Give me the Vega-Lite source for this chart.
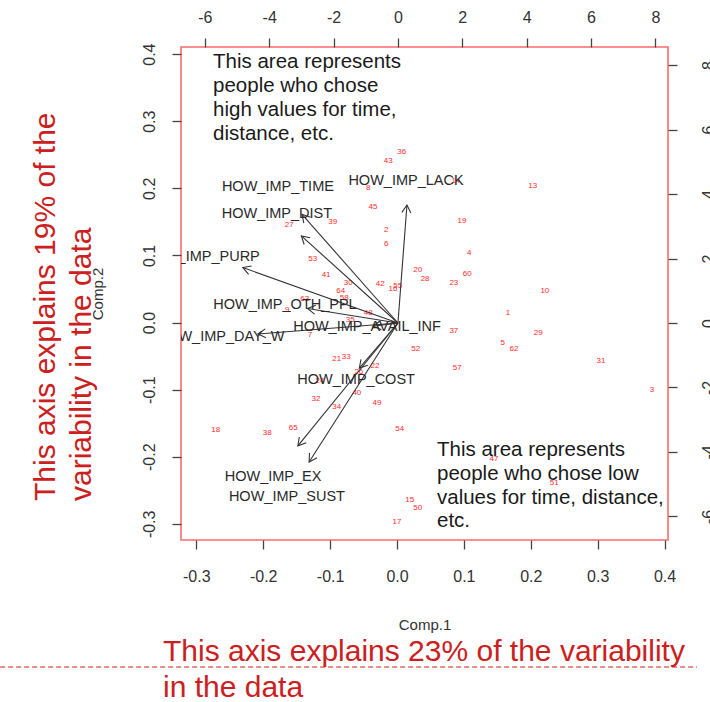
{
  "$schema": "https://vega.github.io/schema/vega-lite/v6.json",
  "width": 487,
  "height": 493,
  "autosize": {"type": "none"},
  "padding": {"left": 181, "top": 47, "right": 42, "bottom": 162},
  "background": "white",
  "config": {
    "font": "Liberation Sans",
    "view": {"stroke": "#ff6b6b", "strokeWidth": 1.6},
    "axis": {
      "domain": false, "grid": false,
      "tickColor": "#444", "tickSize": 9, "tickWidth": 1.3,
      "labelColor": "#333", "labelFontSize": 16, "labelFont": "Liberation Sans",
      "titleFont": "Liberation Sans", "titleFontWeight": "normal", "titleColor": "#333", "titleFontSize": 15
    }
  },
  "datasets": {
    "scores": [
      {"id": "36", "c1": 0.007, "c2": 0.254},
      {"id": "43", "c1": -0.013, "c2": 0.241},
      {"id": "8", "c1": -0.043, "c2": 0.201},
      {"id": "14", "c1": 0.088, "c2": 0.211},
      {"id": "13", "c1": 0.203, "c2": 0.203},
      {"id": "45", "c1": -0.036, "c2": 0.172},
      {"id": "39", "c1": -0.096, "c2": 0.150},
      {"id": "27", "c1": -0.161, "c2": 0.145},
      {"id": "19", "c1": 0.097, "c2": 0.151},
      {"id": "2", "c1": -0.016, "c2": 0.138},
      {"id": "6", "c1": -0.016, "c2": 0.117},
      {"id": "4", "c1": 0.108, "c2": 0.104},
      {"id": "53", "c1": -0.126, "c2": 0.095},
      {"id": "20", "c1": 0.031, "c2": 0.078},
      {"id": "60", "c1": 0.105, "c2": 0.072},
      {"id": "28", "c1": 0.042, "c2": 0.065},
      {"id": "23", "c1": 0.085, "c2": 0.059},
      {"id": "41", "c1": -0.106, "c2": 0.071},
      {"id": "30", "c1": -0.073, "c2": 0.059},
      {"id": "42", "c1": -0.025, "c2": 0.057},
      {"id": "16", "c1": -0.006, "c2": 0.050},
      {"id": "55", "c1": 0.001, "c2": 0.054},
      {"id": "10", "c1": 0.221, "c2": 0.047},
      {"id": "64", "c1": -0.084, "c2": 0.047},
      {"id": "58", "c1": -0.079, "c2": 0.037},
      {"id": "63", "c1": -0.138, "c2": 0.035},
      {"id": "9", "c1": -0.164, "c2": 0.019},
      {"id": "48", "c1": -0.043, "c2": 0.014},
      {"id": "1", "c1": 0.166, "c2": 0.014},
      {"id": "35", "c1": -0.070, "c2": 0.004},
      {"id": "37", "c1": 0.085, "c2": -0.013},
      {"id": "29", "c1": 0.211, "c2": -0.016},
      {"id": "7", "c1": -0.130, "c2": -0.019},
      {"id": "52", "c1": 0.028, "c2": -0.039},
      {"id": "5", "c1": 0.158, "c2": -0.031},
      {"id": "62", "c1": 0.175, "c2": -0.039},
      {"id": "31", "c1": 0.305, "c2": -0.057},
      {"id": "21", "c1": -0.090, "c2": -0.054},
      {"id": "33", "c1": -0.076, "c2": -0.051},
      {"id": "22", "c1": -0.033, "c2": -0.065},
      {"id": "57", "c1": 0.090, "c2": -0.068},
      {"id": "26", "c1": -0.057, "c2": -0.074},
      {"id": "3", "c1": 0.381, "c2": -0.101},
      {"id": "24", "c1": -0.115, "c2": -0.087},
      {"id": "40", "c1": -0.060, "c2": -0.105},
      {"id": "49", "c1": -0.030, "c2": -0.120},
      {"id": "32", "c1": -0.121, "c2": -0.114},
      {"id": "34", "c1": -0.090, "c2": -0.126},
      {"id": "18", "c1": -0.271, "c2": -0.160},
      {"id": "38", "c1": -0.194, "c2": -0.165},
      {"id": "65", "c1": -0.155, "c2": -0.157},
      {"id": "54", "c1": 0.004, "c2": -0.159},
      {"id": "47", "c1": 0.145, "c2": -0.203},
      {"id": "51", "c1": 0.235, "c2": -0.239},
      {"id": "15", "c1": 0.019, "c2": -0.264},
      {"id": "50", "c1": 0.031, "c2": -0.276},
      {"id": "17", "c1": 0.000, "c2": -0.297}
    ],
    "notesBlack": [
      {"text": "This area represents", "ax": -0.275, "ay": 0.388},
      {"text": "people who chose", "ax": -0.275, "ay": 0.352},
      {"text": "high values for time,", "ax": -0.275, "ay": 0.317},
      {"text": "distance, etc.", "ax": -0.275, "ay": 0.281},
      {"text": "This area represents", "ax": 0.0598, "ay": -0.190},
      {"text": "people who chose low", "ax": 0.0598, "ay": -0.226},
      {"text": "values for time, distance,", "ax": 0.0598, "ay": -0.262},
      {"text": "etc.", "ax": 0.0598, "ay": -0.296}
    ],
    "notesRedBottom": [
      {"text": "This axis explains 23% of the variability", "ax": -0.3498, "ay": -0.5045},
      {"text": "in the data", "ax": -0.3498, "ay": -0.5581}
    ],
    "notesRedLeft": [
      {"text": "This axis explains 19% of the", "ax": -0.5247, "ay": -0.266},
      {"text": "variability in the data", "ax": -0.4709, "ay": -0.266}
    ],
    "dashLine": [
      {"ax": -0.5934, "ax2": 0.4484, "ay": -0.5134}
    ],
    "loadings": [
      {"var": "HOW_IMP_LACK", "tx": 0.28, "ty": 3.66, "lx": 0.25, "ly": 4.40},
      {"var": "HOW_IMP_TIME", "tx": -2.98, "ty": 3.37, "lx": -3.73, "ly": 4.22},
      {"var": "HOW_IMP_DIST", "tx": -3.0, "ty": 2.70, "lx": -3.76, "ly": 3.38},
      {"var": "HOW_IMP_PURP", "tx": -4.82, "ty": 1.72, "lx": -6.12, "ly": 2.05},
      {"var": "HOW_IMP_DAY_W", "tx": -4.35, "ty": -0.34, "lx": -5.51, "ly": -0.43},
      {"var": "HOW_IMP_OTH_PPL", "tx": -2.81, "ty": 0.45, "lx": -3.51, "ly": 0.56},
      {"var": "HOW_IMP_AVAIL_INF", "tx": -0.77, "ty": -0.10, "lx": -0.96, "ly": -0.12},
      {"var": "HOW_IMP_COST", "tx": -1.2, "ty": -1.40, "lx": -1.30, "ly": -1.77},
      {"var": "HOW_IMP_EX", "tx": -3.11, "ty": -3.81, "lx": -3.88, "ly": -4.78},
      {"var": "HOW_IMP_SUST", "tx": -2.76, "ty": -4.31, "lx": -3.45, "ly": -5.40}
    ]
  },
  "layer": [
    {
      "layer": [
        {
          "data": {"name": "scores"},
          "mark": {"type": "text", "color": "#ff2a2a", "fontSize": 8, "font": "Liberation Sans"},
          "encoding": {
            "x": {"field": "c1", "type": "quantitative",
              "scale": {"domain": [-0.3229, 0.4051], "nice": false, "zero": false},
              "axis": {"orient": "bottom", "values": [-0.3, -0.2, -0.1, 0, 0.1, 0.2, 0.3, 0.4],
                "labelExpr": "datum.value < 0 ? '-' + format(-datum.value, '.1f') : format(datum.value, '.1f')",
                "labelPadding": 19, "titlePadding": 33},
              "title": "Comp.1"},
            "y": {"field": "c2", "type": "quantitative",
              "scale": {"domain": [-0.3241, 0.4106], "nice": false, "zero": false},
              "axis": {"orient": "left", "values": [-0.3, -0.2, -0.1, 0, 0.1, 0.2, 0.3, 0.4],
                "labelExpr": "datum.value < 0 ? '-' + format(-datum.value, '.1f') : format(datum.value, '.1f')",
                "labelAngle": -90, "labelAlign": "center", "labelBaseline": "bottom", "labelPadding": 15,
                "titlePadding": 36},
              "title": "Comp.2"},
            "text": {"field": "id"}
          }
        },
        {
          "data": {"name": "notesBlack"},
          "mark": {"type": "text", "color": "#1a1a1a", "fontSize": 20.5, "align": "left", "baseline": "middle", "font": "Liberation Sans"},
          "encoding": {
            "x": {"field": "ax", "type": "quantitative", "title": "Comp.1"},
            "y": {"field": "ay", "type": "quantitative", "title": "Comp.2"},
            "text": {"field": "text"}
          }
        },
        {
          "data": {"name": "notesRedBottom"},
          "mark": {"type": "text", "color": "#cc2020", "fontSize": 30, "align": "left", "baseline": "alphabetic", "font": "Liberation Sans"},
          "encoding": {
            "x": {"field": "ax", "type": "quantitative", "title": "Comp.1"},
            "y": {"field": "ay", "type": "quantitative", "title": "Comp.2"},
            "text": {"field": "text"}
          }
        },
        {
          "data": {"name": "notesRedLeft"},
          "mark": {"type": "text", "color": "#cc2020", "fontSize": 30, "align": "left", "baseline": "middle", "angle": 270, "font": "Liberation Sans"},
          "encoding": {
            "x": {"field": "ax", "type": "quantitative", "title": "Comp.1"},
            "y": {"field": "ay", "type": "quantitative", "title": "Comp.2"},
            "text": {"field": "text"}
          }
        },
        {
          "data": {"name": "dashLine"},
          "mark": {"type": "rule", "color": "#cc2020", "strokeWidth": 1, "strokeDash": [5, 3]},
          "encoding": {
            "x": {"field": "ax", "type": "quantitative", "title": "Comp.1"},
            "x2": {"field": "ax2"},
            "y": {"field": "ay", "type": "quantitative", "title": "Comp.2"}
          }
        }
      ]
    },
    {
      "data": {"name": "loadings"},
      "layer": [
        {
          "mark": {"type": "rule", "color": "#333", "strokeWidth": 1.1},
          "encoding": {
            "x": {"field": "tx", "type": "quantitative",
              "scale": {"domain": [-6.74, 8.39], "nice": false, "zero": false},
              "axis": {"orient": "top", "values": [-6, -4, -2, 0, 2, 4, 6, 8],
                "labelExpr": "datum.value < 0 ? '-' + format(-datum.value, 'd') : format(datum.value, 'd')",
                "labelPadding": 13},
              "title": null},
            "x2": {"datum": 0},
            "y": {"field": "ty", "type": "quantitative",
              "scale": {"domain": [-6.73, 8.56], "nice": false, "zero": false},
              "axis": {"orient": "right", "values": [-6, -4, -2, 0, 2, 4, 6, 8],
                "labelExpr": "datum.value < 0 ? '-' + format(-datum.value, 'd') : format(datum.value, 'd')",
                "labelAngle": -90, "labelAlign": "center", "labelBaseline": "top", "labelPadding": 23},
              "title": null},
            "y2": {"datum": 0}
          }
        },
        {
          "transform": [{"calculate": "atan2(datum.tx, datum.ty) * 180 / PI", "as": "ang"}],
          "mark": {"type": "point", "shape": "M -0.5 0.866 L 0 0 L 0.5 0.866", "filled": false, "stroke": "#333", "strokeWidth": 1.1, "size": 324, "opacity": 1},
          "encoding": {
            "x": {"field": "tx", "type": "quantitative", "title": null},
            "y": {"field": "ty", "type": "quantitative", "title": null},
            "angle": {"field": "ang", "type": "quantitative", "scale": null}
          }
        },
        {
          "mark": {"type": "text", "color": "#2a2a2a", "fontSize": 14.5, "clip": true, "font": "Liberation Sans"},
          "encoding": {
            "x": {"field": "lx", "type": "quantitative", "title": null},
            "y": {"field": "ly", "type": "quantitative", "title": null},
            "text": {"field": "var"}
          }
        }
      ]
    }
  ],
  "resolve": {"scale": {"x": "independent", "y": "independent"}, "axis": {"x": "independent", "y": "independent"}}
}
